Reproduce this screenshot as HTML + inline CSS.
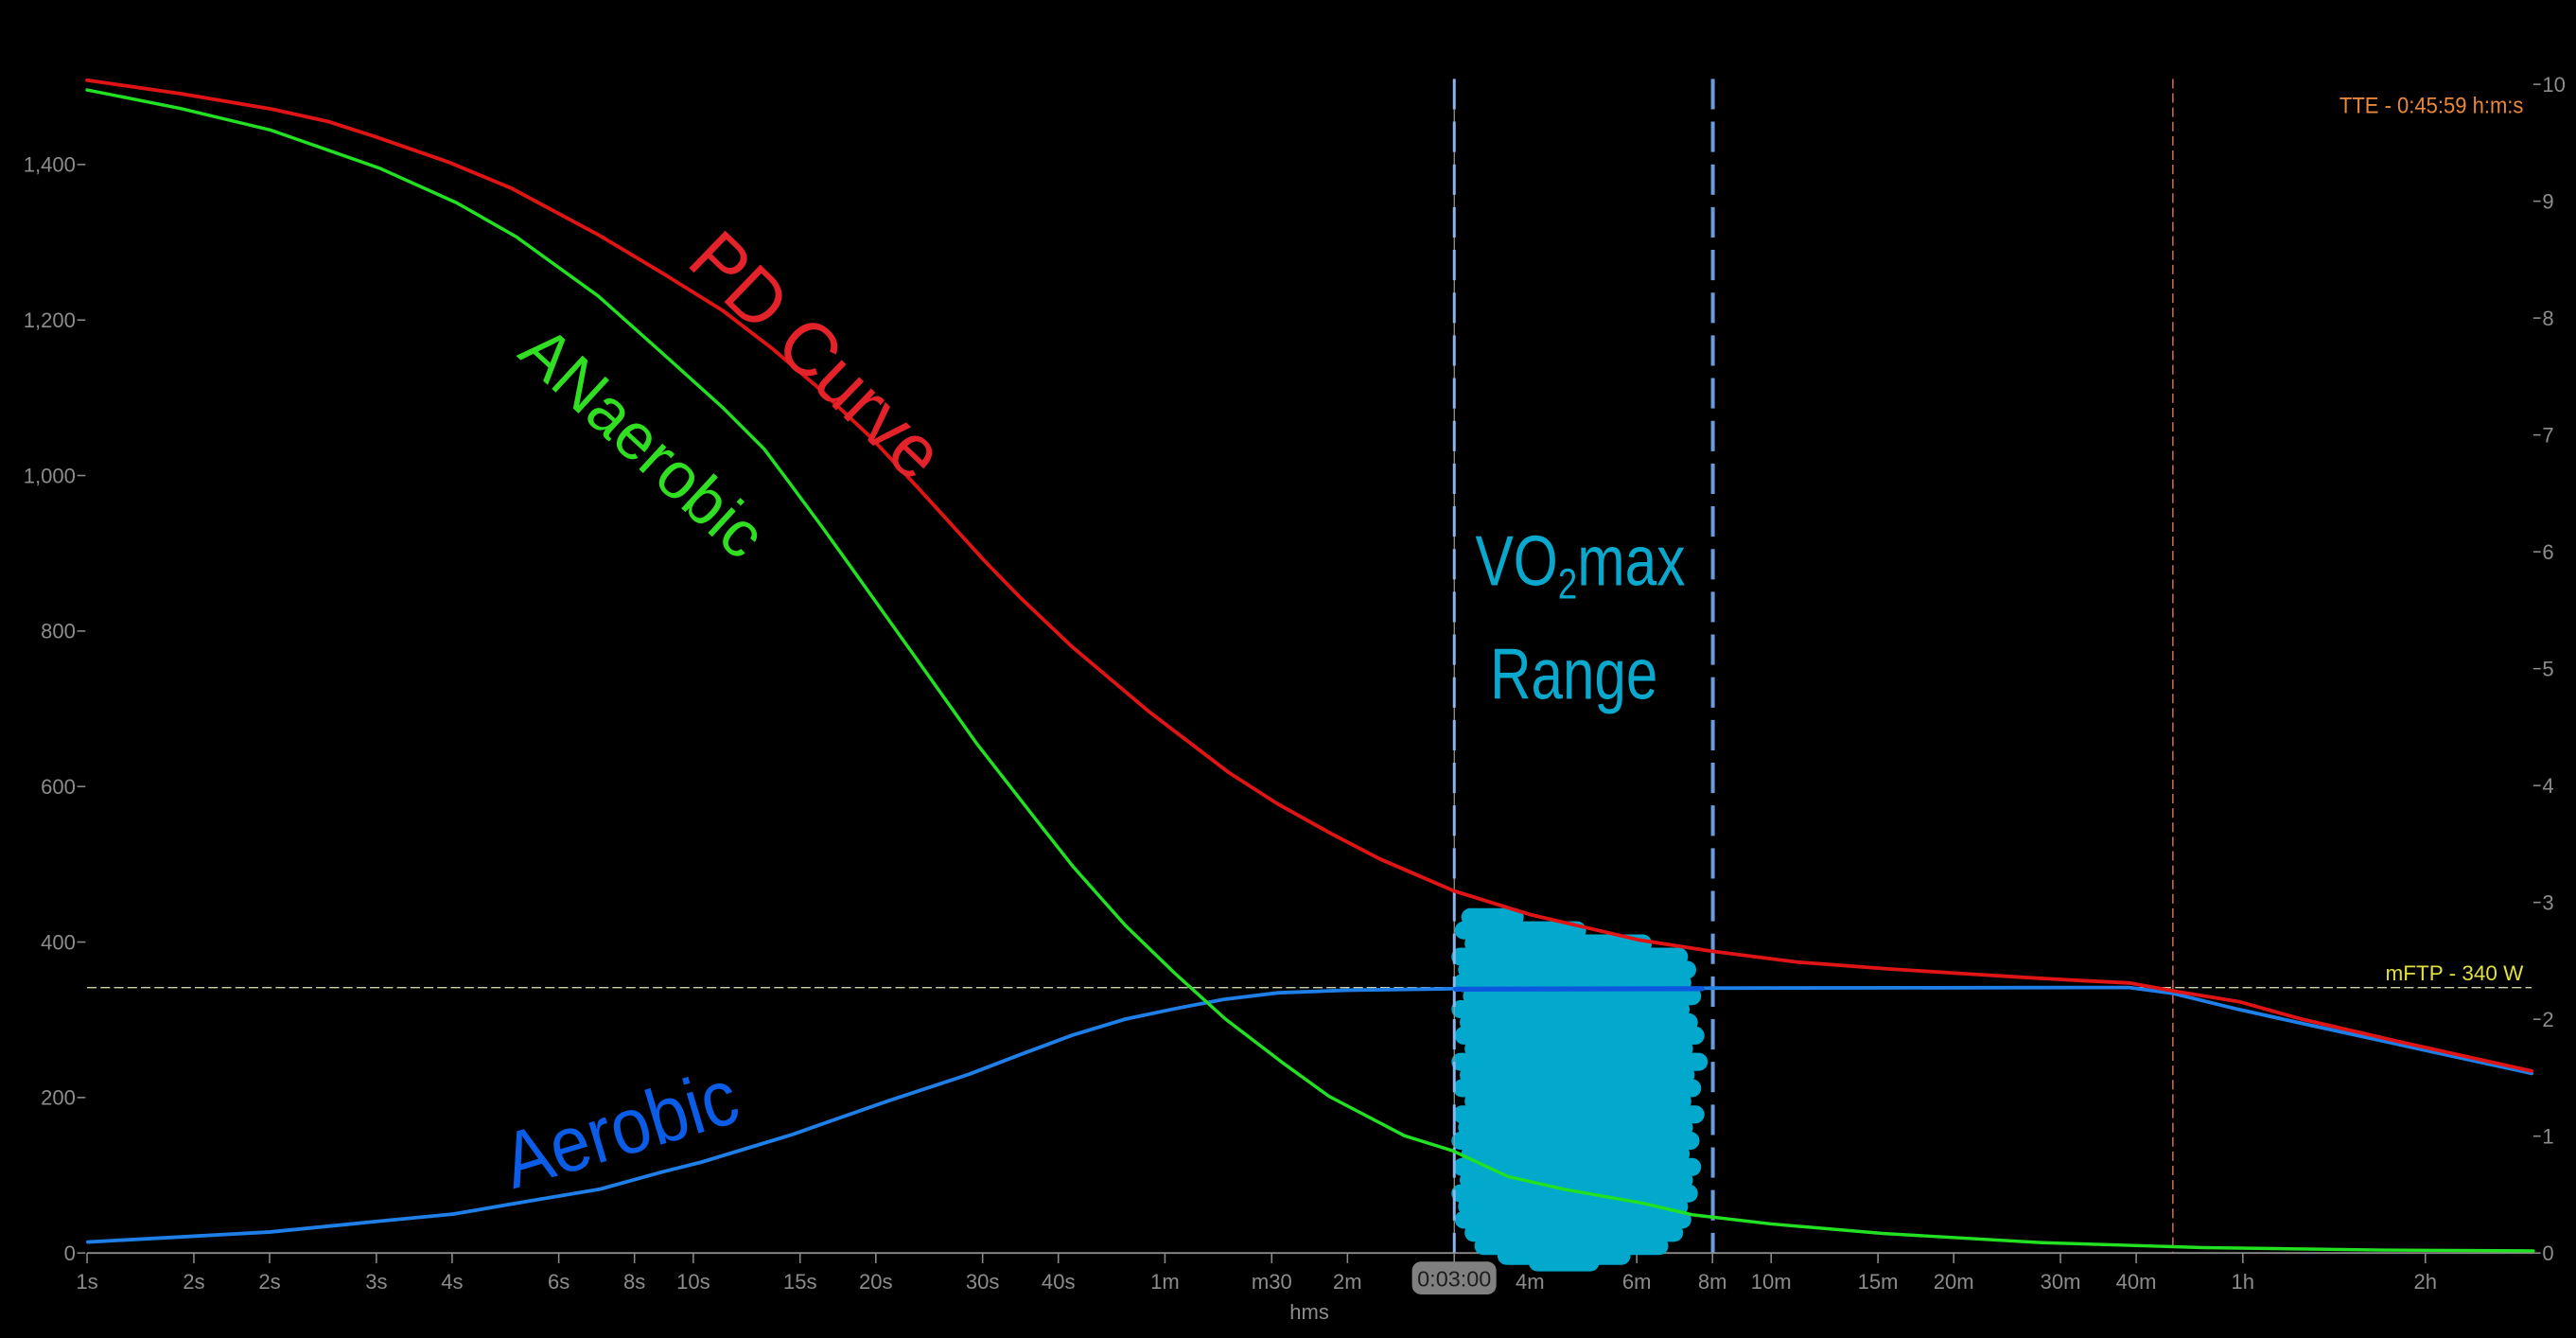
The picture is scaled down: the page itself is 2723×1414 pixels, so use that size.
<!DOCTYPE html>
<html>
<head>
<meta charset="utf-8">
<style>
html,body{margin:0;padding:0;background:#000;overflow:hidden;width:2723px;height:1414px}
svg{display:block}
</style>
</head>
<body>
<svg xmlns="http://www.w3.org/2000/svg" width="2723" height="1414" viewBox="0 0 1568 814" preserveAspectRatio="none" font-family="'Liberation Sans', sans-serif">
<rect x="0" y="0" width="1568" height="814" fill="#000"/>

<!-- x axis -->
<line x1="53" y1="762.3" x2="1542" y2="762.3" stroke="#8a8a8a" stroke-width="1.1"/>
<g stroke="#8a8a8a" stroke-width="0.9">
<line x1="53" y1="762.3" x2="53" y2="768.5"/>
<line x1="118" y1="762.3" x2="118" y2="768.5"/>
<line x1="164.1" y1="762.3" x2="164.1" y2="768.5"/>
<line x1="229.1" y1="762.3" x2="229.1" y2="768.5"/>
<line x1="275.2" y1="762.3" x2="275.2" y2="768.5"/>
<line x1="340.1" y1="762.3" x2="340.1" y2="768.5"/>
<line x1="386.2" y1="762.3" x2="386.2" y2="768.5"/>
<line x1="422" y1="762.3" x2="422" y2="768.5"/>
<line x1="487" y1="762.3" x2="487" y2="768.5"/>
<line x1="533.1" y1="762.3" x2="533.1" y2="768.5"/>
<line x1="598.1" y1="762.3" x2="598.1" y2="768.5"/>
<line x1="644.2" y1="762.3" x2="644.2" y2="768.5"/>
<line x1="709.1" y1="762.3" x2="709.1" y2="768.5"/>
<line x1="774.1" y1="762.3" x2="774.1" y2="768.5"/>
<line x1="820.2" y1="762.3" x2="820.2" y2="768.5"/>
<line x1="885.2" y1="762.3" x2="885.2" y2="768.5"/>
<line x1="931.3" y1="762.3" x2="931.3" y2="768.5"/>
<line x1="996.3" y1="762.3" x2="996.3" y2="768.5"/>
<line x1="1042.4" y1="762.3" x2="1042.4" y2="768.5"/>
<line x1="1078.1" y1="762.3" x2="1078.1" y2="768.5"/>
<line x1="1143.1" y1="762.3" x2="1143.1" y2="768.5"/>
<line x1="1189.2" y1="762.3" x2="1189.2" y2="768.5"/>
<line x1="1254.2" y1="762.3" x2="1254.2" y2="768.5"/>
<line x1="1300.3" y1="762.3" x2="1300.3" y2="768.5"/>
<line x1="1365.2" y1="762.3" x2="1365.2" y2="768.5"/>
<line x1="1476.3" y1="762.3" x2="1476.3" y2="768.5"/>
</g>
<g fill="#8c8c8c" font-size="12.7" text-anchor="middle">
<text x="53" y="784">1s</text>
<text x="118" y="784">2s</text>
<text x="164.1" y="784">2s</text>
<text x="229.1" y="784">3s</text>
<text x="275.2" y="784">4s</text>
<text x="340.1" y="784">6s</text>
<text x="386.2" y="784">8s</text>
<text x="422" y="784">10s</text>
<text x="487" y="784">15s</text>
<text x="533.1" y="784">20s</text>
<text x="598.1" y="784">30s</text>
<text x="644.2" y="784">40s</text>
<text x="709.1" y="784">1m</text>
<text x="774.1" y="784">m30</text>
<text x="820.2" y="784">2m</text>
<text x="931.3" y="784">4m</text>
<text x="996.3" y="784">6m</text>
<text x="1042.4" y="784">8m</text>
<text x="1078.1" y="784">10m</text>
<text x="1143.1" y="784">15m</text>
<text x="1189.2" y="784">20m</text>
<text x="1254.2" y="784">30m</text>
<text x="1300.3" y="784">40m</text>
<text x="1365.2" y="784">1h</text>
<text x="1476.3" y="784">2h</text>
<text x="797" y="802.5">hms</text>
</g>

<!-- left y axis -->
<g stroke="#8a8a8a" stroke-width="0.9">
<line x1="47" y1="762.3" x2="52" y2="762.3"/>
<line x1="47" y1="667.7" x2="52" y2="667.7"/>
<line x1="47" y1="573.1" x2="52" y2="573.1"/>
<line x1="47" y1="478.5" x2="52" y2="478.5"/>
<line x1="47" y1="383.9" x2="52" y2="383.9"/>
<line x1="47" y1="289.3" x2="52" y2="289.3"/>
<line x1="47" y1="194.7" x2="52" y2="194.7"/>
<line x1="47" y1="100.1" x2="52" y2="100.1"/>
</g>
<g fill="#8c8c8c" font-size="12.7" text-anchor="end">
<text x="46" y="766.8">0</text>
<text x="46" y="672.2">200</text>
<text x="46" y="577.6">400</text>
<text x="46" y="483">600</text>
<text x="46" y="388.4">800</text>
<text x="46" y="293.8">1,000</text>
<text x="46" y="199.2">1,200</text>
<text x="46" y="104.6">1,400</text>
</g>

<!-- right y axis -->
<g stroke="#8a8a8a" stroke-width="0.9">
<line x1="1542" y1="762.3" x2="1546.5" y2="762.3"/>
<line x1="1542" y1="691.2" x2="1546.5" y2="691.2"/>
<line x1="1542" y1="620.1" x2="1546.5" y2="620.1"/>
<line x1="1542" y1="549" x2="1546.5" y2="549"/>
<line x1="1542" y1="477.9" x2="1546.5" y2="477.9"/>
<line x1="1542" y1="406.8" x2="1546.5" y2="406.8"/>
<line x1="1542" y1="335.7" x2="1546.5" y2="335.7"/>
<line x1="1542" y1="264.6" x2="1546.5" y2="264.6"/>
<line x1="1542" y1="193.5" x2="1546.5" y2="193.5"/>
<line x1="1542" y1="122.4" x2="1546.5" y2="122.4"/>
<line x1="1542" y1="51.3" x2="1546.5" y2="51.3"/>
</g>
<g fill="#8c8c8c" font-size="12.7" text-anchor="start">
<text x="1547.5" y="766.8">0</text>
<text x="1547.5" y="695.7">1</text>
<text x="1547.5" y="624.6">2</text>
<text x="1547.5" y="553.5">3</text>
<text x="1547.5" y="482.4">4</text>
<text x="1547.5" y="411.3">5</text>
<text x="1547.5" y="340.2">6</text>
<text x="1547.5" y="269.1">7</text>
<text x="1547.5" y="198">8</text>
<text x="1547.5" y="126.9">9</text>
<text x="1547.5" y="55.8">10</text>
</g>

<!-- VO2max blob -->
<path fill="none" stroke="#03a9cd" stroke-width="11" stroke-linecap="round" d="
M895,558 L922,558
M891,566 L960,566
M897,574 L1000,574
M889,582 L1022,582
M893,590 L1027,590
M890,598 L1024,598
M896,606 L1030,606
M889,614 L1023,614
M894,622 L1028,622
M891,630 L1032,630
M897,638 L1025,638
M889,646 L1034,646
M894,654 L1026,654
M890,662 L1030,662
M897,670 L1024,670
M890,678 L1032,678
M893,686 L1025,686
M889,694 L1029,694
M895,702 L1023,702
M890,710 L1030,710
M894,718 L1025,718
M889,726 L1028,726
M893,734 L1022,734
M891,742 L1024,742
M897,750 L1019,750
M903,758 L1010,758
M917,764 L987,764
M936,768 L968,768"/>

<!-- mFTP dashed line -->
<line x1="53" y1="600.8" x2="1541" y2="600.8" stroke="#cfcfa4" stroke-width="0.8" stroke-dasharray="5.8 2.4"/>

<!-- vertical markers -->
<line x1="885.2" y1="48" x2="885.2" y2="762" stroke="#9a9a9a" stroke-width="0.7"/>
<line x1="885.2" y1="48" x2="885.2" y2="762" stroke="#8db6ee" stroke-width="1.7" stroke-dasharray="18.5 7.5"/>
<line x1="1042.6" y1="48" x2="1042.6" y2="762" stroke="#6a9de0" stroke-width="2.3" stroke-dasharray="18.5 7.5"/>
<line x1="1322.6" y1="48" x2="1322.6" y2="762" stroke="#c86a4a" stroke-width="0.9" stroke-dasharray="5.8 2.9"/>

<!-- curves -->
<polyline fill="none" stroke="#1f7fe8" stroke-width="2.2" stroke-linejoin="round" stroke-linecap="round" points="53.5,755.6 110,752.5 164.5,749.5 220,744 276,738.6 320,731 365,723.5 403,713 427,707 460,697 483,690 497,685 540,670 590,653.5 620,642 653,629.7 685,620 715,613.7 745,608 778,604 820,602.4 885,601.5 1000,601.2 1267,600.8 1296,600.8 1322,604.2 1363,614.2 1420,626.7 1541,653"/>
<polyline fill="none" stroke="#e01414" stroke-width="2.2" stroke-linejoin="round" stroke-linecap="round" points="53,48.8 110,57 165,66.3 200,74 228,83 274,99 311,114.4 364,142.7 403,166 440,189 470,212 497,235 530,266 559,297 600,342 621.5,364 652.5,393.4 699.5,433 748,470 777.6,489 810,507 840,522.6 885,542 931,556.3 998,571.9 1042,578.7 1094,585.3 1150,589.5 1190,592 1230,594.5 1266,596.5 1296,598 1322,602.7 1363,609.4 1401,620 1459,633.4 1541,651.6"/>
<polyline fill="none" stroke="#22e022" stroke-width="2" stroke-linejoin="round" stroke-linecap="round" points="53,54.7 110,66 165,79.2 231,102.3 278,123.4 314,143.9 364,180 400,212 440,248 465,273 480,293 500,320 518,345 528,359 556.6,399 594.9,452.9 633.3,502 653,527 685,563 715,592 746,620 780,646 809,667 855,691 884,700 918,715.8 952,723.5 1000,732 1030,739 1078,744.6 1146,750.4 1243,756 1341,759 1450,760.5 1542,761"/>
<polyline fill="none" stroke="#0a58dc" stroke-width="3" stroke-linecap="round" points="886,601.8 1036,601.5"/>

<!-- cursor label -->
<rect x="859.5" y="767.5" width="51.3" height="20" rx="5.5" ry="5.5" fill="#808080"/>
<text x="885.2" y="782.5" font-size="13.5" fill="#1c1c1c" text-anchor="middle">0:03:00</text>

<!-- info labels -->
<text x="1536" y="68.7" font-size="13.6" fill="#e8883a" text-anchor="end" textLength="112" lengthAdjust="spacingAndGlyphs">TTE - 0:45:59 h:m:s</text>
<text x="1536" y="596.4" font-size="13" fill="#e0e040" text-anchor="end" textLength="84" lengthAdjust="spacingAndGlyphs">mFTP - 340 W</text>

<!-- handwritten annotations -->
<text transform="translate(496,217.5) rotate(44)" x="0" y="14" font-size="46" fill="#e42229" text-anchor="middle" textLength="193" lengthAdjust="spacingAndGlyphs">PD Curve</text>
<text transform="translate(389.5,271) rotate(42.7)" x="0" y="11" font-size="40" fill="#30de22" text-anchor="middle" textLength="185" lengthAdjust="spacingAndGlyphs">ANaerobic</text>
<text transform="translate(378,688) rotate(-16.7)" x="0" y="15" font-size="48" fill="#0b5ce6" text-anchor="middle" textLength="146" lengthAdjust="spacingAndGlyphs">Aerobic</text>
<text transform="translate(898,356) scale(0.81,1)" x="0" y="0" font-size="43" fill="#0aa8cc">VO<tspan font-size="26" dy="8">2</tspan><tspan dy="-8">max</tspan></text>
<text transform="translate(907,425) scale(0.787,1)" x="0" y="0" font-size="44" fill="#0aa8cc">Range</text>
</svg>
</body>
</html>
